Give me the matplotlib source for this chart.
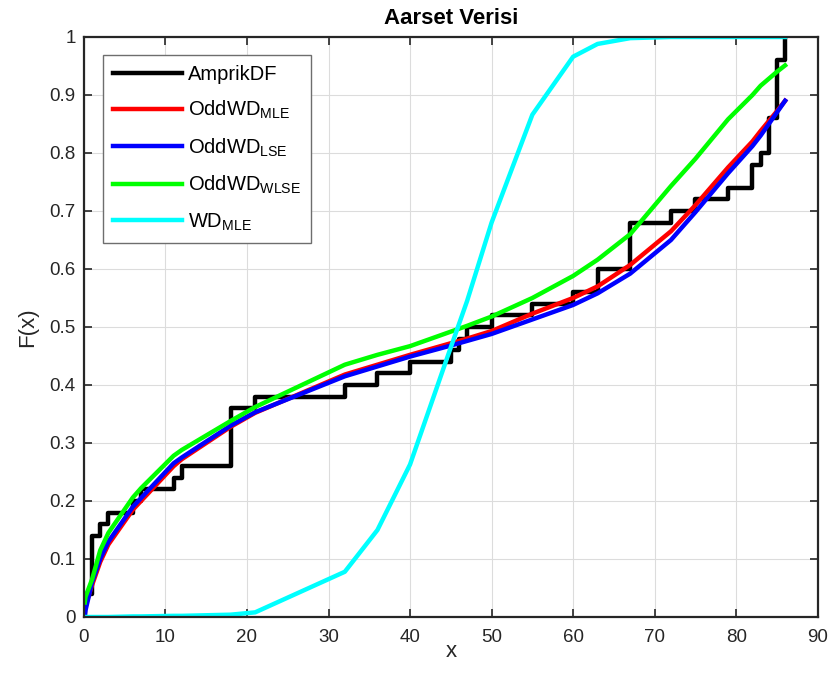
import numpy as np
import matplotlib
matplotlib.use("Agg")
import matplotlib.pyplot as plt

plt.rcParams['font.family'] = ['Liberation Sans', 'DejaVu Sans']
plt.rcParams['mathtext.fontset'] = 'custom'
plt.rcParams['mathtext.rm'] = 'Liberation Sans'

# Aarset failure times (n = 50)
aarset = [0.1, 0.2, 1, 1, 1, 1, 1, 2, 3, 6, 7, 11, 12, 18, 18, 18, 18, 18, 21, 32,
          36, 40, 45, 46, 47, 50, 55, 60, 63, 63, 67, 67, 67, 67, 72, 75, 79, 82, 82, 83,
          84, 84, 84, 85, 85, 85, 85, 85, 86, 86]

# distinct observation points where the fitted CDFs are evaluated
x_pts = [0.1, 0.2, 1, 2, 3, 6, 7, 11, 12, 18, 21, 32, 36, 40, 45, 46, 47, 50, 55, 60,
         63, 67, 72, 75, 79, 82, 83, 84, 85, 86]

F_mle = [0.012, 0.02, 0.055, 0.095, 0.125, 0.185, 0.2, 0.26, 0.272, 0.328, 0.352, 0.418,
         0.435, 0.452, 0.472, 0.476, 0.48, 0.493, 0.523, 0.55, 0.57, 0.607, 0.665, 0.71,
         0.775, 0.82, 0.838, 0.855, 0.872, 0.89]
F_lse = [0.003, 0.012, 0.06, 0.1, 0.13, 0.19, 0.205, 0.265, 0.275, 0.33, 0.353, 0.415,
         0.432, 0.449, 0.468, 0.472, 0.476, 0.488, 0.513, 0.538, 0.558, 0.592, 0.65, 0.698,
         0.765, 0.812, 0.83, 0.85, 0.87, 0.89]
F_wlse = [0.025, 0.035, 0.065, 0.115, 0.145, 0.206, 0.222, 0.278, 0.288, 0.338, 0.362,
          0.435, 0.452, 0.467, 0.492, 0.497, 0.502, 0.518, 0.55, 0.588, 0.616, 0.66, 0.743,
          0.79, 0.858, 0.9, 0.916, 0.928, 0.94, 0.951]
F_wd = [0.0, 0.0, 0.0, 0.0, 0.0, 0.001, 0.001, 0.002, 0.002, 0.004, 0.008, 0.078, 0.15,
        0.263, 0.465, 0.505, 0.545, 0.68, 0.866, 0.966, 0.988, 0.998, 1.0, 1.0, 1.0, 1.0,
        1.0, 1.0, 1.0, 1.0]

# empirical distribution function
xs = np.sort(np.array(aarset, dtype=float))
ux, counts = np.unique(xs, return_counts=True)
ecdf = np.cumsum(counts) / len(xs)
step_x = np.concatenate([[0.0], ux])
step_y = np.concatenate([[0.0], ecdf])

fig = plt.figure(figsize=(8.31, 6.90), dpi=100)
ax = fig.add_axes([0.101, 0.1058, 0.883, 0.8406])

lw = 3.2
ax.plot(step_x, step_y, drawstyle='steps-post', color='black', lw=lw, label='AmprikDF')
ax.plot(x_pts, F_mle, color='#ff0000', lw=lw, label='OddWD$_{\\mathregular{MLE}}$')
ax.plot(x_pts, F_lse, color='#0000ff', lw=lw, label='OddWD$_{\\mathregular{LSE}}$')
ax.plot(x_pts, F_wlse, color='#00ff00', lw=lw, label='OddWD$_{\\mathregular{WLSE}}$')
ax.plot(x_pts, F_wd, color='#00ffff', lw=lw, label='WD$_{\\mathregular{MLE}}$')

ax.set_xlim(0, 90)
ax.set_ylim(0, 1)
ax.set_xticks(np.arange(0, 91, 10))
ax.set_yticks(np.round(np.arange(0, 1.01, 0.1), 1))
ax.set_yticklabels(['0', '0.1', '0.2', '0.3', '0.4', '0.5', '0.6', '0.7', '0.8', '0.9', '1'])
ax.grid(True, color='#dcdcdc', lw=0.8)
ax.set_axisbelow(True)
ax.tick_params(direction='in', top=True, right=True, length=6, width=1.2,
               labelsize=13.5, colors='#262626', pad=6)
ax.tick_params(axis='x', pad=9)
for s in ax.spines.values():
    s.set_linewidth(1.6)
    s.set_color('#262626')

ax.set_title('Aarset Verisi', fontsize=16, fontweight='bold', pad=9)
ax.set_xlabel('x', fontsize=16, color='#262626', labelpad=-4)
ax.set_ylabel('F(x)', fontsize=16, color='#262626', labelpad=8)

leg = ax.legend(loc='upper left', bbox_to_anchor=(0.026, 0.969), borderaxespad=0,
                fontsize=14.5, handlelength=3.4, handletextpad=0.3, labelspacing=0.75,
                fancybox=False, framealpha=1, edgecolor='#6e6e6e', borderpad=0.5)
leg.get_frame().set_linewidth(1.0)

fig.savefig('out.png', dpi=100)
